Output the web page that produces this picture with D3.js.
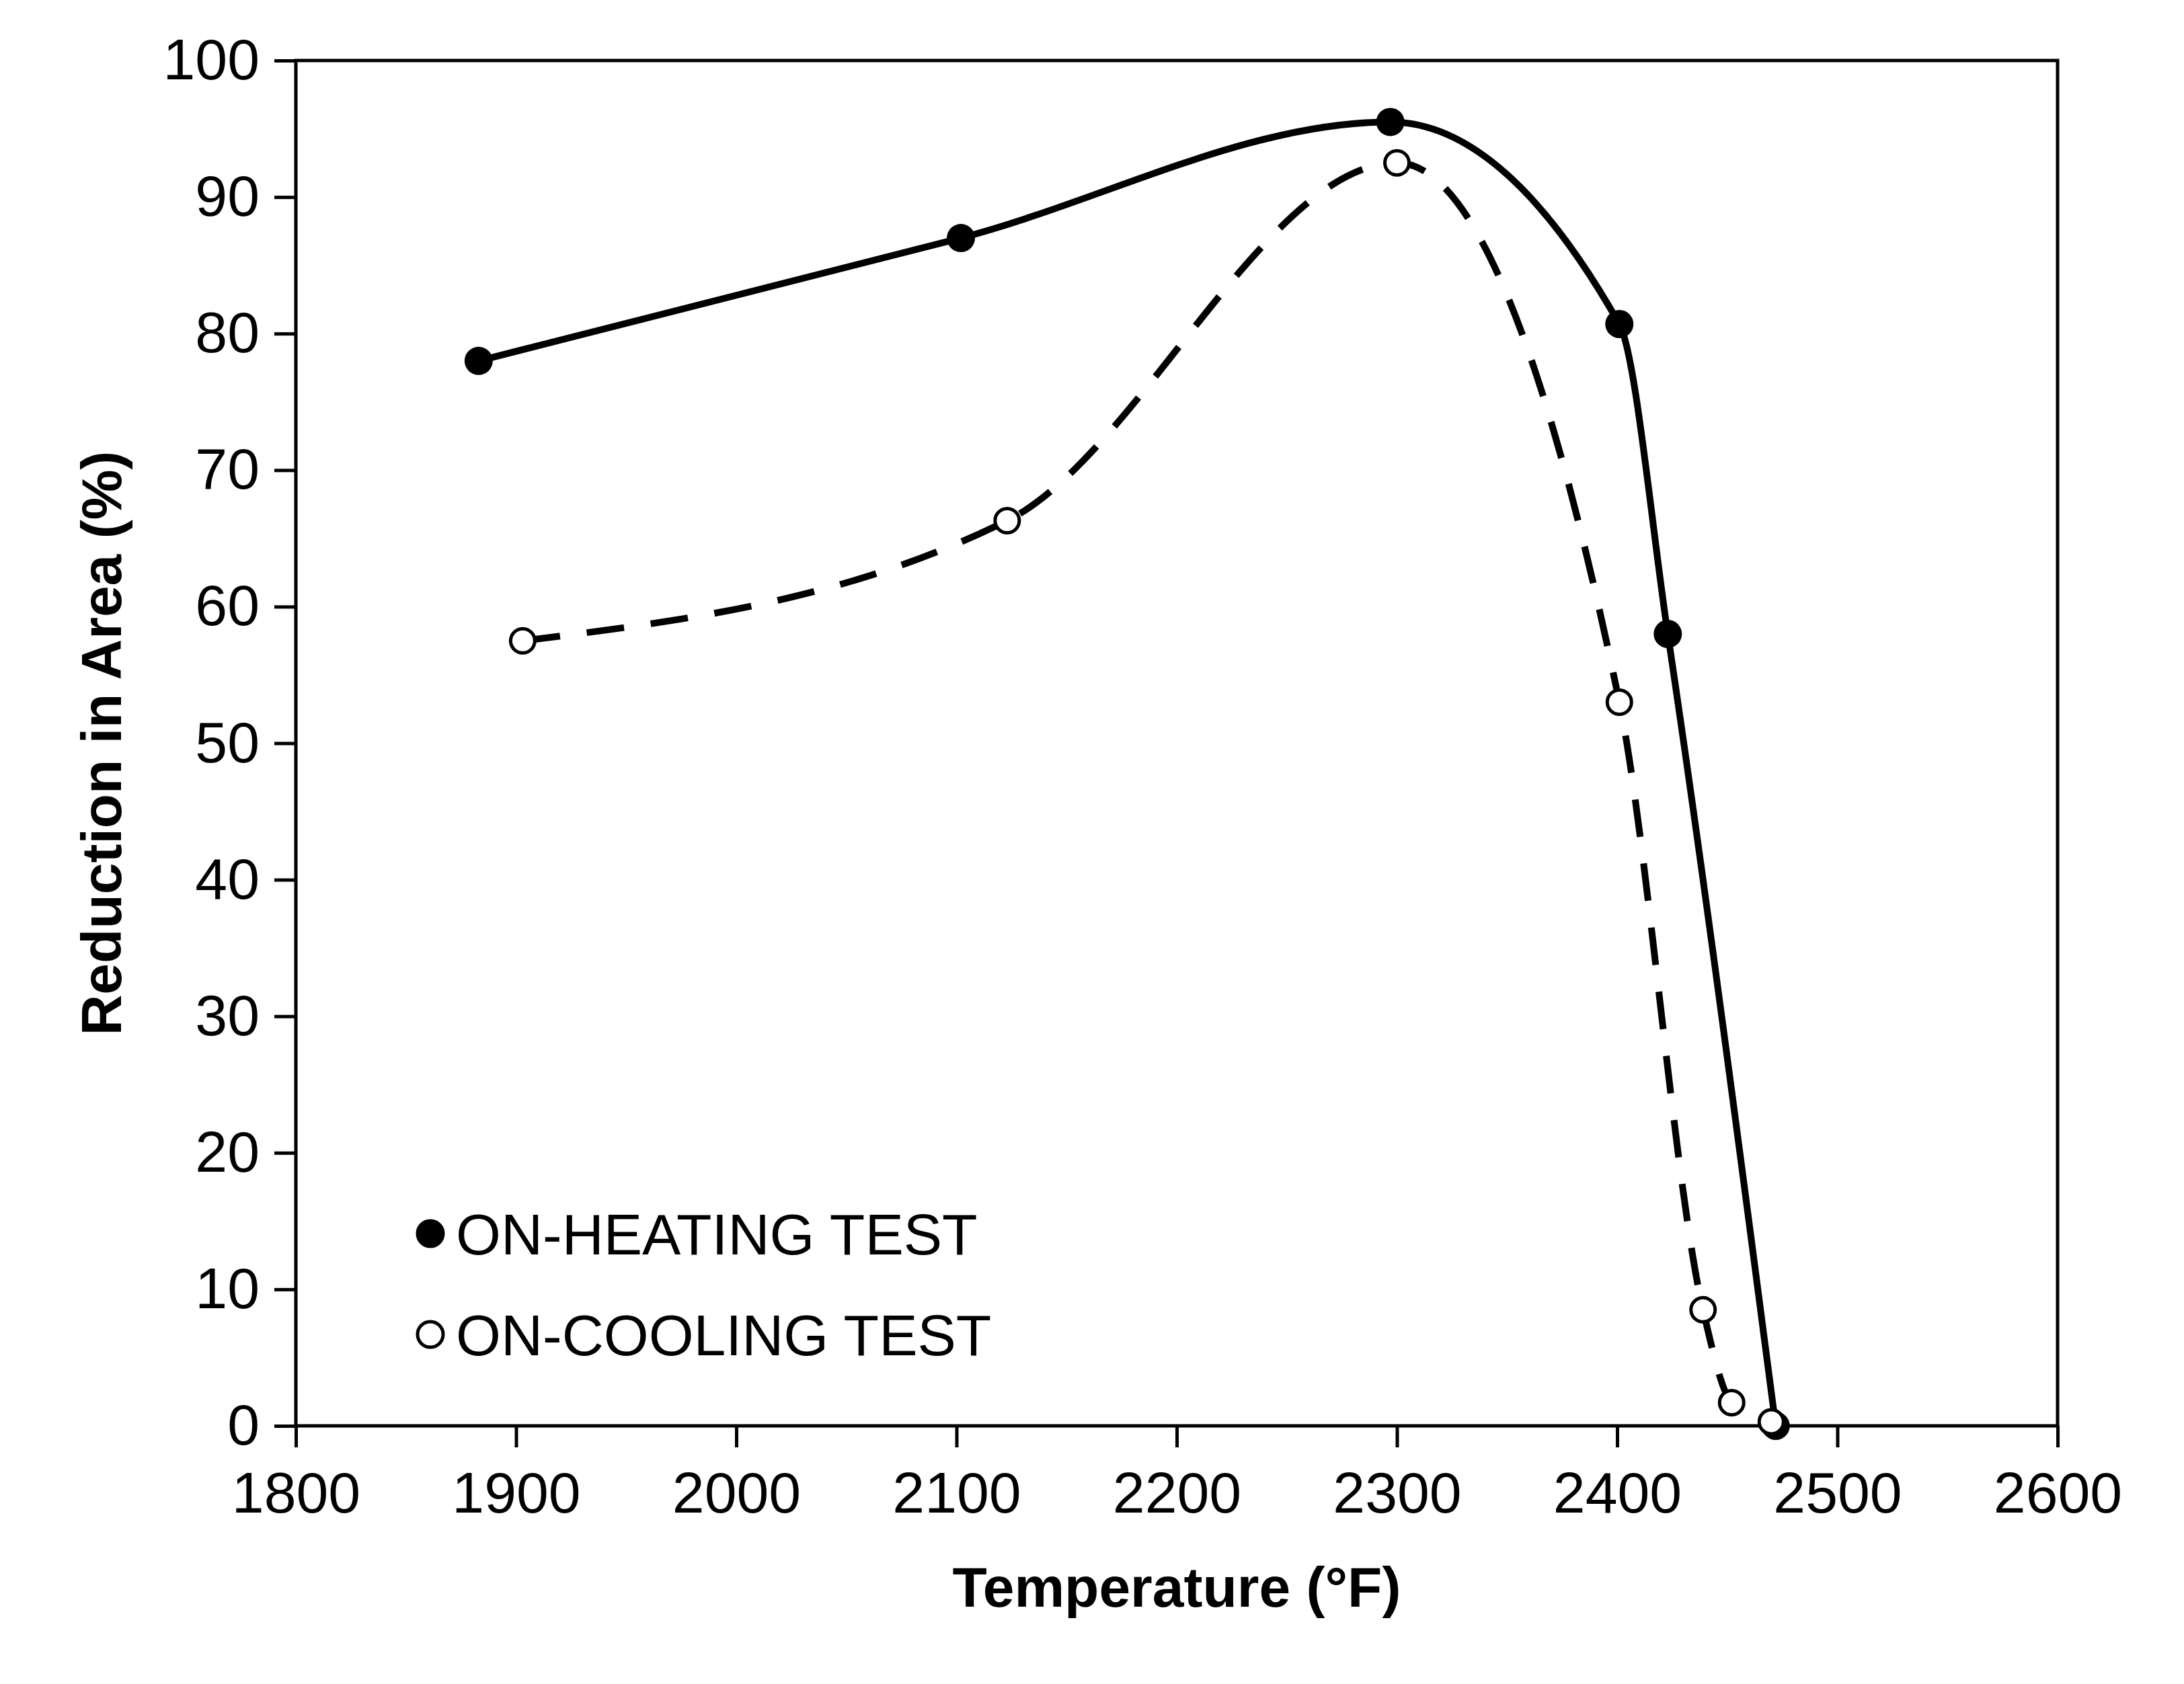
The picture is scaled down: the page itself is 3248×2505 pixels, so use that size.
<!DOCTYPE html>
<html><head><meta charset="utf-8">
<script src="https://cdn.jsdelivr.net/npm/d3@7"></script>
<style>body{margin:0;background:#fff}text{font-family:"Liberation Sans",Arial,sans-serif}</style>
</head><body>
<svg id="c" width="3248" height="2505"></svg>
<script>
// on-heating test
var heatT=[1883,2102,2297,2401,2423,2472];
var heatRA=[78,87,95.5,80.7,58,0];
// on-cooling test
var coolT=[1903,2123,2300,2401,2439,2452,2470];
var coolRA=[57.5,66.3,92.5,53,8.5,1.7,0.3];
var xTicks=[1800,1900,2000,2100,2200,2300,2400,2500,2600];
var yTicks=[0,10,20,30,40,50,60,70,80,90,100];

var svg=d3.select("#c");
var L=440,R=3060,T=90,B=2121;
var x=d3.scaleLinear().domain([1800,2600]).range([L,R]);
var y=d3.scaleLinear().domain([0,100]).range([B,T]);

svg.append("rect").attr("x",L).attr("y",T).attr("width",R-L).attr("height",B-T)
  .attr("fill","none").attr("stroke","#000").attr("stroke-width",5);

var gx=svg.append("g").attr("transform","translate(0,"+B+")");
gx.call(d3.axisBottom(x).tickValues(d3.range(1850,2600,100)).tickSize(26).tickFormat(""));
gx.call(d3.axisBottom(x).tickValues(xTicks).tickSize(32).tickFormat(d3.format("d")).tickPadding(36));
var gy=svg.append("g").attr("transform","translate("+L+",0)");
gy.call(d3.axisLeft(y).tickValues(d3.range(5,100,10)).tickSize(18).tickFormat(""));
gy.call(d3.axisLeft(y).tickValues(yTicks).tickSize(32).tickPadding(22));
svg.selectAll(".domain").remove();
svg.selectAll(".tick line").attr("stroke","#000").attr("stroke-width",5);
svg.selectAll(".tick text").attr("font-size",86).attr("fill","#000");

svg.append("text").attr("x",(L+R)/2).attr("y",2390).attr("text-anchor","middle")
  .attr("font-size",84).attr("font-weight","bold").text("Temperature (°F)");
svg.append("text").attr("transform","translate(180,"+((T+B)/2)+") rotate(-90)")
  .attr("text-anchor","middle").attr("font-size",84).attr("font-weight","bold").text("Reduction in Area (%)");

var line=d3.line().x(function(d){return x(d[0]);}).y(function(d){return y(d[1]);})
  .curve(d3.curveMonotoneX);
var heat=heatT.map(function(t,i){return [t,heatRA[i]];});
var cool=coolT.map(function(t,i){return [t,coolRA[i]];});
svg.append("path").attr("d",line(heat)).attr("fill","none").attr("stroke","#000").attr("stroke-width",10);
svg.append("path").attr("d",line(cool)).attr("fill","none").attr("stroke","#000").attr("stroke-width",10)
  .attr("stroke-dasharray","56,40");
svg.selectAll(".h").data(heat).enter().append("circle")
  .attr("cx",function(d){return x(d[0]);}).attr("cy",function(d){return y(d[1]);})
  .attr("r",21).attr("fill","#000");
svg.selectAll(".k").data(cool).enter().append("circle")
  .attr("cx",function(d){return x(d[0]);}).attr("cy",function(d){return y(d[1]);})
  .attr("r",18).attr("fill","#fff").attr("stroke","#000").attr("stroke-width",5);

var leg=[{t:"ON-HEATING TEST",f:"#000",y:1835},{t:"ON-COOLING TEST",f:"#fff",y:1985}];
leg.forEach(function(l){
  svg.append("circle").attr("cx",640).attr("cy",l.y).attr("r",19).attr("fill",l.f)
    .attr("stroke","#000").attr("stroke-width",5);
  svg.append("text").attr("x",678).attr("y",l.y+31).attr("font-size",86).text(l.t);
});
</script>
</body></html>
